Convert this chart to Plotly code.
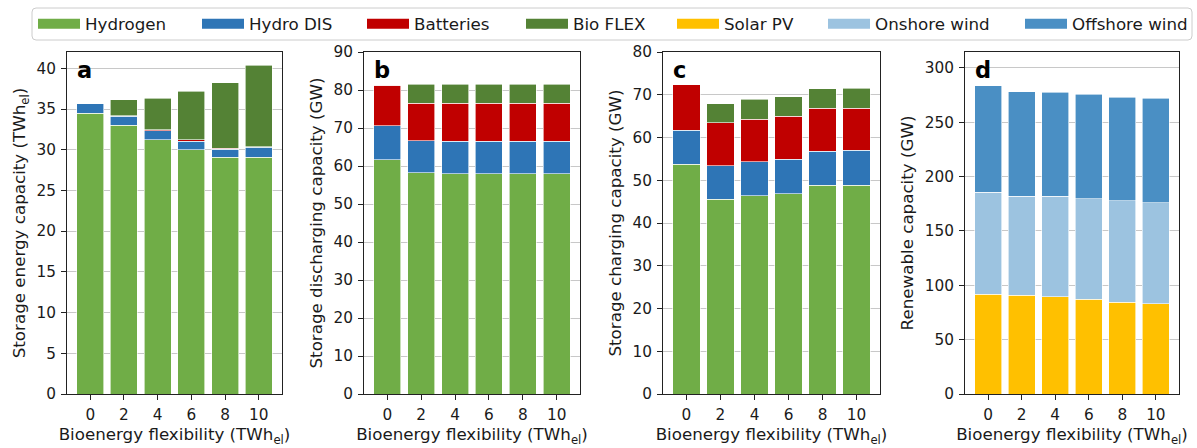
import plotly.graph_objects as go

flex_labels = ["0", "2", "4", "6", "8", "10"]
pos = [0, 1, 2, 3, 4, 5]

# Panel a: storage energy capacity (TWh_el)
a_hydrogen = [34.5, 33.0, 31.2, 30.0, 29.05, 29.1]
a_hydro = [1.15, 1.1, 1.1, 1.05, 1.0, 1.2]
a_batt = [0.0, 0.1, 0.15, 0.15, 0.15, 0.05]
a_bio = [0.0, 1.95, 3.85, 6.0, 8.05, 10.05]

# Panel b: storage discharging capacity (GW)
b_hydrogen = [61.7, 58.2, 58.0, 58.0, 58.0, 58.0]
b_hydro = [8.9, 8.5, 8.5, 8.5, 8.5, 8.5]
b_batt = [10.7, 9.8, 10.0, 10.0, 10.0, 10.0]
b_bio = [0.0, 5.0, 5.0, 5.0, 5.0, 5.0]

# Panel c: storage charging capacity (GW)
c_hydrogen = [53.7, 45.5, 46.4, 46.9, 48.8, 48.8]
c_hydro = [8.0, 7.9, 7.9, 8.0, 8.0, 8.2]
c_batt = [10.6, 10.0, 10.0, 10.1, 10.0, 9.8]
c_bio = [0.0, 4.5, 4.7, 4.5, 4.6, 4.7]

# Panel d: renewable capacity (GW)
d_solar = [92.0, 90.7, 89.5, 87.0, 84.3, 83.0]
d_onshore = [93.8, 91.4, 92.6, 92.6, 93.5, 93.2]
d_offshore = [97.8, 96.0, 95.4, 96.1, 95.4, 95.8]

legend_names = ["Hydrogen", "Hydro DIS", "Batteries", "Bio FLEX", "Solar PV", "Onshore wind", "Offshore wind"]
colors = {
    "Hydrogen": "#70ad47",
    "Hydro DIS": "#2e75b6",
    "Batteries": "#c00000",
    "Bio FLEX": "#548235",
    "Solar PV": "#ffc000",
    "Onshore wind": "#9cc3e0",
    "Offshore wind": "#4a8fc4",
}

panels = [
    ("x", "y", [("Hydrogen", a_hydrogen), ("Hydro DIS", a_hydro), ("Batteries", a_batt), ("Bio FLEX", a_bio)]),
    ("x2", "y2", [("Hydrogen", b_hydrogen), ("Hydro DIS", b_hydro), ("Batteries", b_batt), ("Bio FLEX", b_bio)]),
    ("x3", "y3", [("Hydrogen", c_hydrogen), ("Hydro DIS", c_hydro), ("Batteries", c_batt), ("Bio FLEX", c_bio)]),
    ("x4", "y4", [("Solar PV", d_solar), ("Onshore wind", d_onshore), ("Offshore wind", d_offshore)]),
]

W, H = 1197, 448
font = "DejaVu Sans, Verdana, sans-serif"

fig = go.Figure()
for xa, ya, series in panels:
    for name, vals in series:
        fig.add_trace(go.Bar(
            x=pos, y=vals, name=name, xaxis=xa, yaxis=ya,
            marker=dict(color=colors[name], line=dict(color="white", width=0.6)),
            showlegend=False, width=0.8,
        ))

# legend entries, one small legend per entry so each can be placed like the reference
handle_x = [38, 202, 367, 526, 677, 828, 1025]
legend_cfg = {}
for i, name in enumerate(legend_names):
    lg = "legend" if i == 0 else "legend" + str(i + 1)
    fig.add_trace(go.Scatter(
        x=[None], y=[None], mode="lines", name=name, legend=lg,
        line=dict(color=colors[name], width=11), xaxis="x", yaxis="y",
    ))
    legend_cfg[lg] = dict(
        x=(handle_x[i] - 5) / W, xanchor="left", y=1 - 24 / H, yanchor="middle",
        orientation="h", bgcolor="rgba(0,0,0,0)", borderwidth=0,
        font=dict(size=16.7, family=font, color="#1a1a1a"), itemwidth=42,
    )

xdoms = [(67, 282), (364, 580), (663, 880), (965, 1179)]
ybot, ytop = 394, 52
ydom = [1 - ybot / H, 1 - ytop / H]

yinfo = [
    ("Storage energy capacity (TWh<sub>el</sub>)", [0, 42.0], 5),
    ("Storage discharging capacity (GW)", [0, 90], 10),
    ("Storage charging capacity (GW)", [0, 80], 10),
    ("Renewable capacity (GW)", [0, 314.7], 50),
]

layout = dict(
    width=W, height=H,
    margin=dict(l=0, r=0, t=0, b=0, autoexpand=False),
    paper_bgcolor="white", plot_bgcolor="white",
    barmode="stack",
    font=dict(family=font, size=15.3, color="#1a1a1a"),
)
layout.update(legend_cfg)

letters = ["a", "b", "c", "d"]
annotations = []
for i in range(4):
    sx = "" if i == 0 else str(i + 1)
    x0, x1 = xdoms[i]
    layout["xaxis" + sx] = dict(
        domain=[x0 / W, x1 / W], anchor="y" + sx, automargin=False,
        range=[-0.69, 5.69], tickmode="array", tickvals=pos, ticktext=flex_labels,
        showline=True, linecolor="#222222", linewidth=1, mirror=True,
        ticks="outside", ticklen=5, tickcolor="#222222", ticklabelstandoff=2,
        showgrid=False, zeroline=False,
        title=dict(text="Bioenergy flexibility (TWh<sub>el</sub>)", font=dict(size=16.7), standoff=4),
        tickfont=dict(size=15.3),
    )
    title, rng, dt = yinfo[i]
    layout["yaxis" + sx] = dict(
        domain=ydom, anchor="x" + sx, range=rng, dtick=dt, automargin=False,
        showline=True, linecolor="#222222", linewidth=1, mirror=True,
        ticks="outside", ticklen=5, tickcolor="#222222", ticklabelstandoff=2,
        showgrid=True, gridcolor="#c8c8c8", gridwidth=1, zeroline=False,
        title=dict(text=title, font=dict(size=16.7), standoff=6),
        tickfont=dict(size=15.3),
    )
    annotations.append(dict(
        text="<b>" + letters[i] + "</b>", xref="x" + sx + " domain", yref="y" + sx + " domain",
        x=0.036, y=1 - 3 / 342, xanchor="left", yanchor="top", showarrow=False,
        font=dict(size=22.5, color="black", family=font),
    ))
layout["annotations"] = annotations

# legend frame with rounded corners (pixel coordinates converted to paper)
lx0, lx1, ly0, ly1, r = 32, 1192, 8, 40, 4
def px(x):
    return x / W
def py(y):
    return 1 - y / H
path = (
    f"M {px(lx0 + r)},{py(ly0)} L {px(lx1 - r)},{py(ly0)} "
    f"Q {px(lx1)},{py(ly0)} {px(lx1)},{py(ly0 + r)} L {px(lx1)},{py(ly1 - r)} "
    f"Q {px(lx1)},{py(ly1)} {px(lx1 - r)},{py(ly1)} L {px(lx0 + r)},{py(ly1)} "
    f"Q {px(lx0)},{py(ly1)} {px(lx0)},{py(ly1 - r)} L {px(lx0)},{py(ly0 + r)} "
    f"Q {px(lx0)},{py(ly0)} {px(lx0 + r)},{py(ly0)} Z"
)
layout["shapes"] = [dict(type="path", xref="paper", yref="paper", path=path,
                         line=dict(color="#cccccc", width=1), fillcolor="rgba(0,0,0,0)", layer="below")]
fig.update_layout(**layout)

fig.write_html(
    "out.html",
    config={"displayModeBar": False},
    post_script="document.body.style.margin='0';document.body.style.overflow='hidden';",
)
